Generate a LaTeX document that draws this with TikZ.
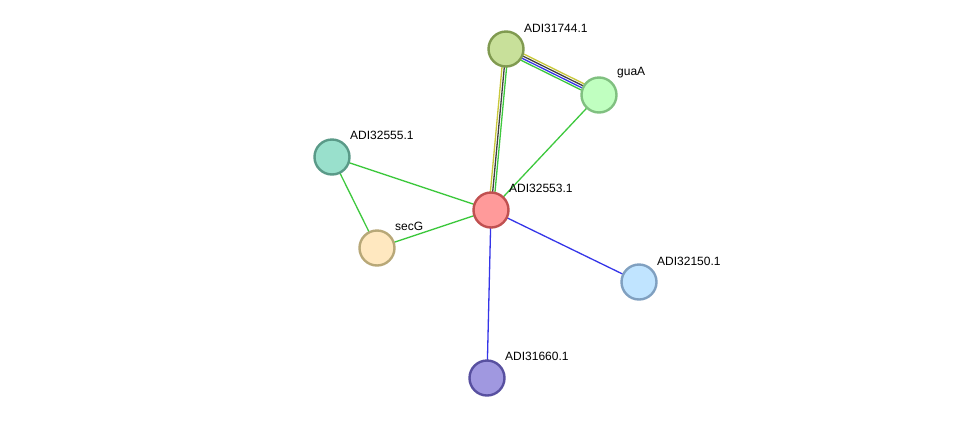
\documentclass[tikz,border=0pt]{standalone}
\usepackage{fontspec}
\setmainfont{Liberation Sans}
\usetikzlibrary{calc,backgrounds}
\definecolor{egreen}{HTML}{3DC83D}
\definecolor{eblue}{HTML}{3535E8}
\definecolor{eyellow}{HTML}{C8C83A}
\definecolor{egrey}{HTML}{404040}
\tikzset{
  prot/.style={circle, minimum size=35pt, inner sep=0pt, line width=2.4pt},
  lbl/.style={anchor=west, inner sep=0pt, font=\fontsize{12}{14}\selectfont},
  edge/.style={line width=1.3pt},
}
\newcommand{\pline}[4]{\draw[edge,#1] ($(#2.center)!#4!90:(#3.center)$) -- ($(#3.center)!#4!-90:(#2.center)$);}
\begin{document}
\begin{tikzpicture}[x=1pt,y=-1pt]
\useasboundingbox (0,0) rectangle (975,424);
\node[prot, fill={rgb,255:red,200;green,224;blue,154}, draw={rgb,255:red,128;green,154;blue,80}] (n31744) at (506,49) {};
\node[prot, fill={rgb,255:red,192;green,255;blue,192}, draw={rgb,255:red,128;green,192;blue,128}] (nguaA) at (599,95) {};
\node[prot, fill={rgb,255:red,153;green,224;blue,204}, draw={rgb,255:red,90;green,154;blue,136}] (n32555) at (332,157) {};
\node[prot, fill={rgb,255:red,255;green,154;blue,154}, draw={rgb,255:red,192;green,80;blue,80}] (n32553) at (491,210) {};
\node[prot, fill={rgb,255:red,255;green,232;blue,192}, draw={rgb,255:red,184;green,168;blue,120}] (nsecG) at (377,248) {};
\node[prot, fill={rgb,255:red,192;green,228;blue,255}, draw={rgb,255:red,128;green,160;blue,192}] (n32150) at (639,282) {};
\node[prot, fill={rgb,255:red,160;green,152;blue,224}, draw={rgb,255:red,88;green,80;blue,160}] (n31660) at (487,378) {};
\begin{scope}[on background layer]
  \pline{eyellow}{n31744}{n32553}{-2.3pt}
  \pline{egrey}{n31744}{n32553}{0pt}
  \pline{egreen}{n31744}{n32553}{2.3pt}
  \pline{eyellow}{n31744}{nguaA}{3.4pt}
  \pline{egrey}{n31744}{nguaA}{1.15pt}
  \pline{eblue}{n31744}{nguaA}{-1.15pt}
  \pline{egreen}{n31744}{nguaA}{-3.4pt}
  \draw[edge,egreen] (nguaA.center) -- (n32553.center);
  \draw[edge,egreen] (n32555.center) -- (n32553.center);
  \draw[edge,egreen] (n32555.center) -- (nsecG.center);
  \draw[edge,egreen] (nsecG.center) -- (n32553.center);
  \draw[edge,eblue] (n32553.center) -- (n32150.center);
  \draw[edge,eblue] (n32553.center) -- (n31660.center);
\end{scope}
\node[lbl] (l31744) at (524,28) {ADI31744.1};
\node[lbl] (lguaA) at (617,73) {guaA};
\node[lbl] (l32555) at (350,135) {ADI32555.1};
\node[lbl] (l32553) at (509,188) {ADI32553.1};
\node[lbl] (lsecG) at (395,226) {secG};
\node[lbl] (l32150) at (657,261) {ADI32150.1};
\node[lbl] (l31660) at (505,356) {ADI31660.1};
\end{tikzpicture}
\end{document}
